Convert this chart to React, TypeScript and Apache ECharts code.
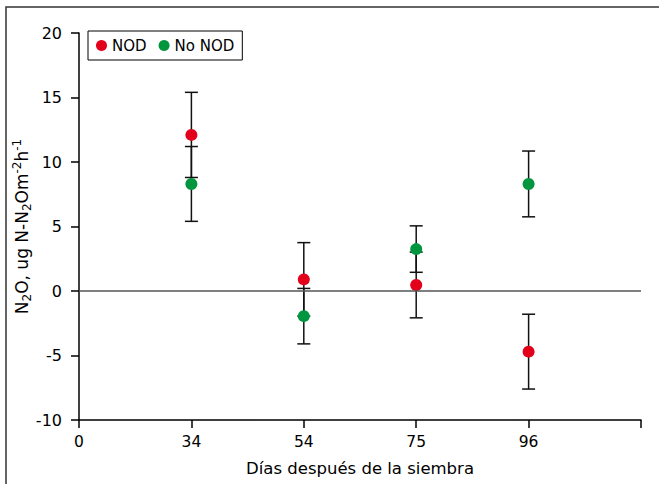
import React, { useEffect, useRef } from "react";
import * as echarts from "echarts";

const categories = ["0", "34", "54", "75", "96", ""];
const sampleDays = ["34", "54", "75", "96"];
const nodMean = [12.1, 0.9, 0.47, -4.7];
const nodErr = [3.3, 2.85, 2.55, 2.9];
const noNodMean = [8.3, -1.95, 3.25, 8.3];
const noNodErr = [2.9, 2.15, 1.8, 2.55];
const yTicks = { min: -10, max: 20, interval: 5 };

const RED = "#e3001b";
const GREEN = "#00963f";

function errData(mean: number[], err: number[]) {
  return sampleDays.map((d, i) => [categories.indexOf(d), mean[i] - err[i], mean[i] + err[i]]);
}

function renderErr(params: any, api: any) {
  const x = api.value(0);
  const lo = api.coord([x, api.value(1)]);
  const hi = api.coord([x, api.value(2)]);
  const hw = 6.5;
  const style = { stroke: "#111", lineWidth: 1.5 };
  return {
    type: "group",
    children: [
      { type: "line", shape: { x1: hi[0], y1: hi[1], x2: lo[0], y2: lo[1] }, style },
      { type: "line", shape: { x1: hi[0] - hw, y1: hi[1], x2: hi[0] + hw, y2: hi[1] }, style },
      { type: "line", shape: { x1: lo[0] - hw, y1: lo[1], x2: lo[0] + hw, y2: lo[1] }, style },
    ],
  };
}

export default function App() {
  const ref = useRef<HTMLDivElement>(null);
  useEffect(() => {
    if (!ref.current) return;
    const chart = echarts.init(ref.current, null, { renderer: "svg" });
    const font = "'DejaVu Sans', 'Liberation Sans', Arial, sans-serif";
    chart.setOption({
      animation: false,
      backgroundColor: "#fff",
      textStyle: { fontFamily: font },
      graphic: [
        {
          type: "rect",
          shape: { x: 6, y: 7, width: 700, height: 500 },
          style: { fill: "none", stroke: "#333", lineWidth: 1.5 },
          z: 100,
        },
      ],
      legend: {
        left: 88,
        top: 31,
        orient: "horizontal",
        icon: "circle",
        itemWidth: 11,
        itemHeight: 11,
        itemGap: 12,
        padding: [7, 8, 7, 8],
        borderColor: "#000",
        borderWidth: 1,
        textStyle: { fontSize: 15, color: "#000", fontFamily: font },
        data: ["NOD", "No NOD"],
      },
      grid: { left: 79, right: 18, top: 33, bottom: 64, outerBoundsMode: "none", containLabel: false },
      xAxis: {
        type: "category",
        data: categories,
        boundaryGap: false,
        name: "Días después de la siembra",
        nameLocation: "middle",
        nameGap: 40,
        nameMoveOverlap: false,
        nameTextStyle: { fontSize: 16.5, color: "#000", fontFamily: font },
        axisLine: { onZero: false, lineStyle: { color: "#000", width: 1.5 } },
        axisTick: { show: true, length: 8, lineStyle: { color: "#000", width: 1.5 }, interval: 0 },
        axisLabel: { fontSize: 15.5, color: "#000", margin: 14, interval: 0, fontFamily: font },
        splitLine: { show: false },
      },
      yAxis: {
        type: "value",
        min: yTicks.min,
        max: yTicks.max,
        interval: yTicks.interval,
        name: "N{sub|2}O, ug N-N{sub|2}Om{sup|-2}h{sup|-1}",
        nameLocation: "middle",
        nameGap: 46,
        nameMoveOverlap: false,
        nameTextStyle: {
          fontSize: 17,
          color: "#000",
          fontFamily: font,
          lineHeight: 22,
          rich: {
            sub: { fontSize: 12, verticalAlign: "bottom", lineHeight: 11, color: "#000", fontFamily: font },
            sup: { fontSize: 12, verticalAlign: "top", lineHeight: 11, color: "#000", fontFamily: font },
          },
        },
        axisLine: { show: true, lineStyle: { color: "#000", width: 1.5 } },
        axisTick: { show: true, length: 8, lineStyle: { color: "#000", width: 1.5 } },
        axisLabel: { fontSize: 16, color: "#000", margin: 17, fontFamily: font },
        splitLine: { show: false },
      },
      series: [
        {
          type: "custom",
          name: "errNOD",
          renderItem: renderErr,
          data: errData(nodMean, nodErr),
          z: 2,
          silent: true,
          markLine: {
            silent: true,
            symbol: "none",
            label: { show: false },
            lineStyle: { color: "#555", width: 1.5, type: "solid" },
            data: [{ yAxis: 0 }],
          },
        },
        {
          type: "custom",
          name: "errNoNOD",
          renderItem: renderErr,
          data: errData(noNodMean, noNodErr),
          z: 2,
          silent: true,
        },
        {
          type: "scatter",
          name: "NOD",
          symbol: "circle",
          symbolSize: 12,
          itemStyle: { color: RED, opacity: 1 },
          data: sampleDays.map((d, i) => [d, nodMean[i]]),
          z: 3,
        },
        {
          type: "scatter",
          name: "No NOD",
          symbol: "circle",
          symbolSize: 12,
          itemStyle: { color: GREEN, opacity: 1 },
          data: sampleDays.map((d, i) => [d, noNodMean[i]]),
          z: 4,
        },
      ],
    });
    return () => chart.dispose();
  }, []);
  return (
    <div
      ref={ref}
      style={{ position: "fixed", left: 0, top: 0, width: 659, height: 484 }}
    />
  );
}
